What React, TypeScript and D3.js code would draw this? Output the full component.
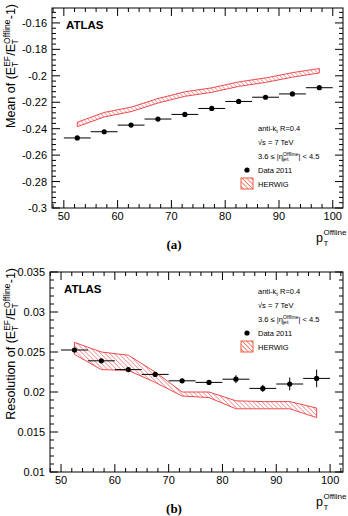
import * as d3 from "d3";

// pT bins (GeV), centres and half width
const binCenters = [52.5, 57.5, 62.5, 67.5, 72.5, 77.5, 82.5, 87.5, 92.5, 97.5];
const binHalf = 2.5;

// (a) mean of (E_T^EF / E_T^Offline - 1)
const meanData = [-0.247, -0.2423, -0.2373, -0.2327, -0.2292, -0.2247, -0.2194, -0.2162, -0.2137, -0.209];
const meanHerwig = [-0.2368, -0.2294, -0.2254, -0.2189, -0.2138, -0.2108, -0.2063, -0.2033, -0.1993, -0.1962];
const meanHerwigErr = [0.0017, 0.0017, 0.0017, 0.0017, 0.0017, 0.0017, 0.0017, 0.0017, 0.0017, 0.0017];

// (b) resolution
const resData = [0.02525, 0.0239, 0.0228, 0.0222, 0.0214, 0.0212, 0.0216, 0.02045, 0.021, 0.0217];
const resDataErr = [0.0002, 0.0002, 0.0002, 0.0002, 0.0002, 0.0002, 0.0005, 0.00045, 0.0008, 0.0011];
const resHerwigHigh = [0.0262, 0.025, 0.0246, 0.0225, 0.02, 0.02, 0.0189, 0.0188, 0.0188, 0.018];
const resHerwigLow = [0.0247, 0.0228, 0.0227, 0.0212, 0.0195, 0.0193, 0.0179, 0.0179, 0.0179, 0.0168];

const xTickLabels = [50, 60, 70, 80, 90, 100];
const meanTickLabels = [-0.3, -0.28, -0.26, -0.24, -0.22, -0.2, -0.18, -0.16];
const resTickLabels = [0.01, 0.015, 0.02, 0.025, 0.03, 0.035];

const FONT = "'Liberation Sans', Arial, Helvetica, sans-serif";
const RED = "#e8393c";

type PanelProps = {
  x0: number; x1: number; y0: number; y1: number;
  xDomain: [number, number]; yDomain: [number, number];
  yTicks: number[]; yMinorStep: number;
  points: number[]; pointErr: number[];
  bandLow: number[]; bandHigh: number[];
  title: string; letter: string;
  legendY: number; legendX: number;
};

function Panel(p: PanelProps) {
  const x = d3.scaleLinear().domain(p.xDomain).range([p.x0, p.x1]);
  const y = d3.scaleLinear().domain(p.yDomain).range([p.y1, p.y0]);
  const xMinor = d3.range(48, 102.01, 2).filter((v) => v >= p.xDomain[0] && v <= p.xDomain[1]);
  const yMinor = d3
    .range(Math.ceil(p.yDomain[0] / p.yMinorStep - 1e-6), Math.floor(p.yDomain[1] / p.yMinorStep + 1e-6) + 1)
    .map((k) => k * p.yMinorStep);
  const band = d3
    .area<number>()
    .x((_, i) => x(binCenters[i]))
    .y0((_, i) => y(p.bandLow[i]))
    .y1((_, i) => y(p.bandHigh[i]));
  const bandPath = band(binCenters) ?? "";
  const fmt = (v: number) => String(+v.toFixed(3));
  const lx = p.legendX;
  const ly = p.legendY;
  return (
    <g fontFamily={FONT}>
      {/* herwig band */}
      <path d={bandPath} fill="url(#hatch)" stroke={RED} strokeWidth={0.9} />
      {/* data points */}
      {binCenters.map((c, i) => (
        <g key={i} stroke="#000" strokeWidth={1}>
          <line x1={x(c - binHalf)} x2={x(c + binHalf)} y1={y(p.points[i])} y2={y(p.points[i])} />
          <line x1={x(c)} x2={x(c)} y1={y(p.points[i] - p.pointErr[i])} y2={y(p.points[i] + p.pointErr[i])} />
          <circle cx={x(c)} cy={y(p.points[i])} r={2.6} fill="#000" stroke="none" />
        </g>
      ))}
      {/* frame */}
      <rect x={p.x0} y={p.y0} width={p.x1 - p.x0} height={p.y1 - p.y0} fill="none" stroke="#000" strokeWidth={1} />
      {/* ticks on all four sides */}
      <g stroke="#000" strokeWidth={1}>
        {xMinor.map((v) => {
          const major = xTickLabels.includes(v);
          const len = major ? 8 : 4;
          return (
            <g key={v}>
              <line x1={x(v)} x2={x(v)} y1={p.y1} y2={p.y1 - len} />
              <line x1={x(v)} x2={x(v)} y1={p.y0} y2={p.y0 + len} />
            </g>
          );
        })}
        {yMinor.map((v, i) => {
          const major = p.yTicks.some((t) => Math.abs(t - v) < 1e-9);
          const len = major ? 8 : 4;
          return (
            <g key={i}>
              <line x1={p.x0} x2={p.x0 + len} y1={y(v)} y2={y(v)} />
              <line x1={p.x1} x2={p.x1 - len} y1={y(v)} y2={y(v)} />
            </g>
          );
        })}
      </g>
      {xTickLabels.map((v) => (
        <text key={v} x={x(v)} y={p.y1 + 12} fontSize={11} textAnchor="middle" fill="#000">
          {v}
        </text>
      ))}
      {p.yTicks.map((v) => (
        <text key={v} x={p.x0 - 5} y={y(v) + 4} fontSize={11} textAnchor="end" fill="#000">
          {fmt(v)}
        </text>
      ))}
      {/* y title */}
      <text transform={`translate(15,${p.y0 - 4}) rotate(-90)`} textAnchor="end" fontSize={12.5} fill="#000">
        {p.title} (E
        <tspan fontSize={8.5} dy={-5}>EF</tspan>
        <tspan fontSize={8.5} dx={-11} dy={8}>T</tspan>
        <tspan dx={6} dy={-3}>/E</tspan>
        <tspan fontSize={8.5} dy={-5}>Offline</tspan>
        <tspan fontSize={8.5} dx={-25} dy={8}>T</tspan>
        <tspan dx={20} dy={-3}>-1)</tspan>
      </text>
      {/* x title */}
      <text x={316} y={p.y1 + 34} fontSize={12.5} fill="#000">p</text>
      <text x={323.5} y={p.y1 + 27} fontSize={8} fill="#000">Offline</text>
      <text x={323.5} y={p.y1 + 38} fontSize={8} fill="#000">T</text>
      {/* panel letter */}
      <text x={174} y={p.y1 + 41} fontSize={13} fontWeight="bold" fontFamily="'Liberation Serif', 'Times New Roman', serif" textAnchor="middle" fill="#000">
        {p.letter}
      </text>
      {/* ATLAS */}
      <text x={p.x0 + 14} y={p.y0 + 21} fontSize={11.5} fontWeight="bold" fill="#000">
        ATLAS
      </text>
      {/* legend */}
      <g fontSize={7.5} fill="#000">
        <text x={lx} y={ly}>
          anti-k<tspan fontSize={5.5} dy={2}>t</tspan>
          <tspan dy={-2}>{"  R=0.4"}</tspan>
        </text>
        <text x={lx} y={ly + 14}>√s = 7 TeV</text>
        <text x={lx} y={ly + 28}>
          3.6 ≤ |η<tspan fontSize={5.5} dy={-3}>Offline</tspan>
          <tspan fontSize={5.5} dx={-16} dy={5}>jet</tspan>
          <tspan dx={10} dy={-2}>| &lt; 4.5</tspan>
        </text>
        <circle cx={lx - 11} cy={ly + 39} r={2.6} fill="#000" />
        <text x={lx} y={ly + 42}>Data 2011</text>
        <rect x={lx - 17} y={ly + 47} width={12} height={11} fill="url(#hatchL)" stroke="#ef5a3c" strokeWidth={1} />
        <text x={lx} y={ly + 56}>HERWIG</text>
      </g>
    </g>
  );
}

export default function App() {
  return (
    <svg
      width={348}
      height={516}
      style={{ position: "absolute", left: 0, top: 0, background: "#fff" }}
    >
      <defs>
        <pattern id="hatch" width={3.2} height={3.2} patternUnits="userSpaceOnUse" patternTransform="rotate(-45)">
          <line x1={0} y1={0} x2={0} y2={3.2} stroke={RED} strokeWidth={0.9} />
        </pattern>
        <pattern id="hatchL" width={3.2} height={3.2} patternUnits="userSpaceOnUse" patternTransform="rotate(-45)">
          <rect width={3.2} height={3.2} fill="#fff" />
          <line x1={0} y1={0} x2={0} y2={3.2} stroke="#ef5a3c" strokeWidth={1.4} />
        </pattern>
      </defs>
      <Panel
        x0={52} x1={343} y0={8} y1={208}
        xDomain={[47.8, 101.9]} yDomain={[-0.3, -0.1487]}
        yTicks={meanTickLabels} yMinorStep={0.004}
        points={meanData} pointErr={meanData.map(() => 0)}
        bandLow={meanHerwig.map((v, i) => v - meanHerwigErr[i])}
        bandHigh={meanHerwig.map((v, i) => v + meanHerwigErr[i])}
        title="Mean of" letter="(a)"
        legendX={258} legendY={131}
      />
      <Panel
        x0={50} x1={343} y0={272} y1={472}
        xDomain={[47.95, 102.4]} yDomain={[0.01, 0.035]}
        yTicks={resTickLabels} yMinorStep={0.001}
        points={resData} pointErr={resDataErr}
        bandLow={resHerwigLow} bandHigh={resHerwigHigh}
        title="Resolution of" letter="(b)"
        legendX={258} legendY={294}
      />
    </svg>
  );
}
